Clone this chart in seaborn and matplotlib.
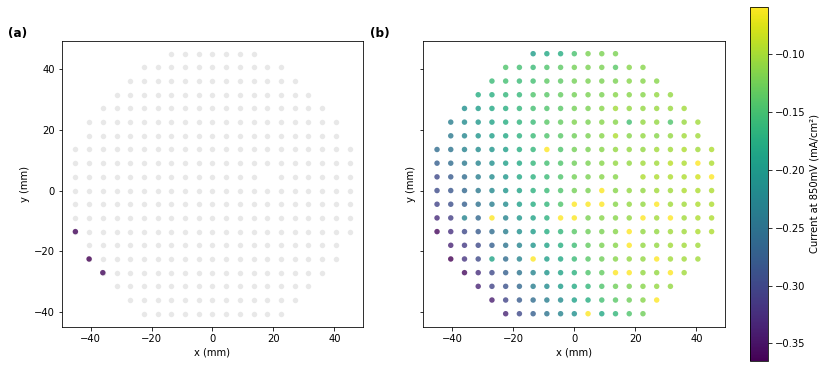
import numpy as np
import pandas as pd
import matplotlib
matplotlib.use("Agg")
import matplotlib.pyplot as plt
import seaborn as sns

# === WAFER GRID (rows top to bottom) ===
pitch = 4.5
row_y = [45, 40.5, 36, 31.5, 27, 22.5, 18, 13.5, 9, 4.5,
         0, -4.5, -9, -13.5, -18, -22.5, -27, -31.5, -36, -40.5]
row_halfwidth = [13.5, 22.5, 27, 31.5, 36, 40.5, 40.5, 45, 45, 45,
                 45, 45, 45, 45, 40.5, 40.5, 36, 31.5, 27, 22.5]

# === CURRENT AT 850mV (mA/cm2), one list per row, left to right; nan = no site ===
nan = np.nan
current_rows = [
    [-0.197, -0.182, -0.176, -0.148, -0.121, -0.121, -0.121],
    [-0.145, -0.152, -0.158, -0.145, -0.136, -0.124, -0.121, -0.121, -0.139, -0.115, -0.115],
    [-0.158, -0.152, -0.158, -0.152, -0.136, -0.136, -0.124, -0.121, -0.121, -0.121, -0.115, -0.115, -0.115],
    [-0.176, -0.173, -0.164, -0.161, -0.145, -0.139, -0.133, -0.124, -0.121, -0.121, -0.115, -0.115, -0.115,
     -0.109, -0.109],
    [-0.213, -0.197, -0.182, -0.173, -0.164, -0.152, -0.145, -0.139, -0.124, -0.121, -0.115, -0.103, -0.109,
     -0.109, -0.106, -0.106, -0.103],
    [-0.237, -0.219, -0.203, -0.188, -0.176, -0.167, -0.158, -0.139, -0.133, -0.118, -0.121, -0.115, -0.115,
     -0.152, -0.109, -0.109, -0.145, -0.106, -0.103],
    [-0.243, -0.225, -0.206, -0.194, -0.182, -0.170, -0.158, -0.145, -0.139, -0.127, -0.121, -0.115, -0.097,
     -0.115, -0.109, -0.115, -0.109, -0.103, -0.103],
    [-0.258, -0.249, -0.231, -0.219, -0.206, -0.194, -0.176, -0.164, -0.060, -0.145, -0.124, -0.121, -0.115,
     -0.109, -0.109, -0.109, -0.103, -0.103, -0.097, -0.103, -0.097],
    [-0.274, -0.258, -0.243, -0.228, -0.213, -0.194, -0.182, -0.164, -0.152, -0.145, -0.127, -0.121, -0.115,
     -0.109, -0.109, -0.103, -0.103, -0.091, -0.097, -0.060, -0.097],
    [-0.298, -0.280, -0.258, -0.237, -0.219, -0.203, -0.182, -0.170, -0.158, -0.145, -0.124, -0.121, -0.115,
     -0.115, nan, -0.097, -0.097, -0.097, -0.097, -0.081, -0.059],
    [-0.295, -0.283, -0.264, -0.243, -0.222, -0.206, -0.188, -0.170, -0.158, -0.145, -0.124, -0.121, -0.061,
     -0.115, -0.109, -0.109, -0.103, -0.103, -0.097, -0.097, -0.097],
    [-0.304, -0.292, -0.274, -0.252, -0.237, -0.219, -0.194, -0.176, -0.164, -0.145, -0.060, -0.061, -0.060,
     -0.115, -0.109, -0.109, -0.060, -0.103, -0.103, -0.097, -0.097],
    [-0.328, -0.310, -0.228, -0.264, -0.060, -0.228, -0.203, -0.188, -0.170, -0.060, -0.061, -0.121, -0.115,
     -0.115, -0.109, -0.060, -0.103, -0.060, -0.103, -0.097, -0.097],
    [-0.359, -0.322, -0.298, -0.280, -0.258, -0.237, -0.213, -0.197, -0.176, -0.164, -0.139, -0.127, -0.121,
     -0.115, -0.060, -0.109, -0.109, -0.103, -0.103, -0.097, -0.097],
    [-0.335, -0.313, -0.298, -0.274, -0.249, -0.228, -0.206, -0.188, -0.173, -0.155, -0.133, -0.121, -0.115,
     -0.060, -0.109, -0.109, -0.103, -0.103, -0.103],
    [-0.365, -0.319, -0.298, -0.188, -0.258, -0.228, -0.060, -0.194, -0.182, -0.158, -0.139, -0.127, -0.115,
     -0.109, -0.109, -0.060, -0.103, -0.103, -0.103],
    [-0.356, -0.325, -0.298, -0.274, -0.249, -0.228, -0.206, -0.188, -0.170, -0.145, -0.133, -0.060, -0.060,
     -0.109, -0.109, -0.060, -0.103],
    [-0.335, -0.304, -0.289, -0.264, -0.237, -0.219, -0.197, -0.179, -0.164, -0.145, -0.127, -0.121, -0.115,
     -0.109, -0.109],
    [-0.341, -0.304, -0.280, -0.258, -0.237, -0.219, -0.191, -0.176, -0.152, -0.139, -0.127, -0.115, -0.060],
    [-0.335, -0.298, -0.274, -0.249, -0.228, -0.213, -0.060, -0.182, -0.164, -0.145, -0.127],
]
fail_threshold = -0.35  # sites highlighted in panel (a)

# === BUILD TABLE ===
records = []
for y, hw, vals in zip(row_y, row_halfwidth, current_rows):
    xs = np.arange(-hw, hw + 0.01, pitch)
    assert len(xs) == len(vals), (y, len(xs), len(vals))
    for x, v in zip(xs, vals):
        if not np.isnan(v):
            records.append((x, y, v))
df = pd.DataFrame(records, columns=["x", "y", "current"])

vmin, vmax = df["current"].min(), df["current"].max()
norm = plt.Normalize(vmin, vmax)

# === PLOTTING ===
fig = plt.figure(figsize=(830 / 72, 368 / 72), dpi=72)
ax1 = fig.add_axes([0.0743, 0.1122, 0.3634, 0.7772])
ax2 = fig.add_axes([0.5100, 0.1122, 0.3639, 0.7772], sharey=ax1)
cax = fig.add_axes([0.9036, 0.0198, 0.0217, 0.962])

# (a) all sites in grey, low-current sites coloured
sns.scatterplot(data=df, x="x", y="y", color="lightgray", alpha=0.5, s=30,
                linewidth=0, ax=ax1, legend=False)
low = df[df["current"] < fail_threshold]
sns.scatterplot(data=low, x="x", y="y", hue="current", palette="viridis",
                hue_norm=norm, alpha=0.8, s=30, linewidth=0, ax=ax1, legend=False)

# (b) all sites coloured by current
sns.scatterplot(data=df, x="x", y="y", hue="current", palette="viridis",
                hue_norm=norm, alpha=0.8, s=30, linewidth=0, ax=ax2, legend=False)

for ax in (ax1, ax2):
    ax.set_xlabel("x (mm)")
    ax.set_ylabel("y (mm)")
    ax.margins(0.05)
plt.setp(ax2.get_yticklabels(), visible=False)

sm = plt.cm.ScalarMappable(norm=norm, cmap="viridis")
cb = fig.colorbar(sm, cax=cax)
cb.set_label("Current at 850mV (mA/cm²)")

fig.text(8 / 830, 1 - 34 / 368, "(a)", fontsize=12, fontweight="bold", va="center")
fig.text(370 / 830, 1 - 34 / 368, "(b)", fontsize=12, fontweight="bold", va="center")

fig.savefig("out.png", dpi=72)
